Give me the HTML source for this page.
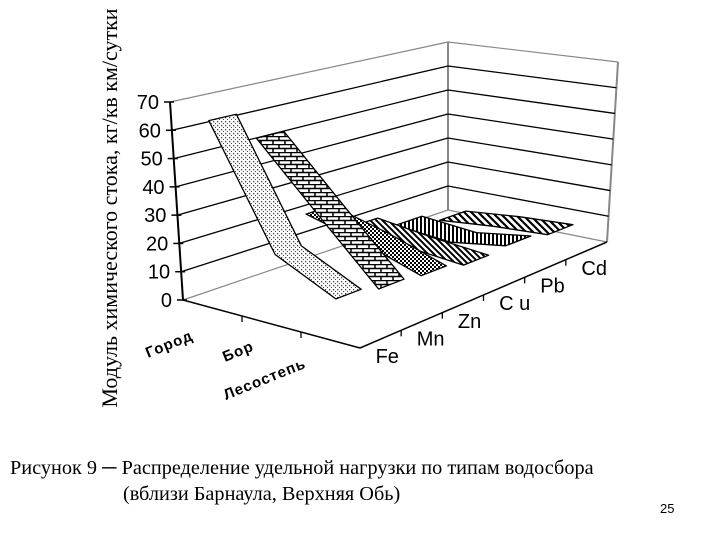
<!DOCTYPE html>
<html><head><meta charset="utf-8">
<style>
body{margin:0;background:#fff;}
#wrap{position:relative;width:720px;height:540px;overflow:hidden;background:#fff;}
.cap{position:absolute;font-family:"Liberation Serif",serif;font-size:20.3px;color:#000;white-space:nowrap;}
</style></head>
<body>
<div id="wrap">
<svg id="chart" width="720" height="540" style="position:absolute;left:0;top:0">
<defs>
<pattern id="pDots" width="4" height="4" patternUnits="userSpaceOnUse"><rect width="4" height="4" fill="#fff"/><rect x="1" y="1" width="1.3" height="1.3" fill="#444"/><rect x="3" y="3" width="1.3" height="1.3" fill="#444"/></pattern>
<pattern id="pBrick" width="12" height="8" patternUnits="userSpaceOnUse"><rect width="12" height="8" fill="#fff"/><path d="M0 0.5H12M0 4.5H12M3 0V4.5M9 4.5V8" stroke="#000" stroke-width="1.5"/></pattern>
<pattern id="pCheck" width="4" height="4" patternUnits="userSpaceOnUse"><rect width="4" height="4" fill="#fff"/><rect width="2" height="2" fill="#000"/><rect x="2" y="2" width="2" height="2" fill="#000"/></pattern>
<pattern id="pDiag" width="6" height="6" patternUnits="userSpaceOnUse"><rect width="6" height="6" fill="#fff"/><path d="M-1 -1L7 7M-1 5L1 7M5 -1L7 1" stroke="#000" stroke-width="2"/></pattern>
<pattern id="pVert" width="4" height="4" patternUnits="userSpaceOnUse"><rect width="4" height="4" fill="#fff"/><rect width="2" height="4" fill="#000"/></pattern>
<pattern id="pDiag2" width="7" height="7" patternUnits="userSpaceOnUse"><rect width="7" height="7" fill="#fff"/><path d="M-1 -1L8 8M-1 6L1 8M6 -1L8 1" stroke="#000" stroke-width="2.2"/></pattern>
</defs>
<g id="g"></g>
</svg>
<div class="cap" style="left:-110px;top:195px;width:440px;font-size:22px;transform:rotate(-90deg);text-align:center;">Модуль химического стока, кг/кв км/сутки</div>
<div class="cap" style="left:10px;top:457px;">Рисунок 9 ─ Распределение удельной нагрузки по типам водосбора</div>
<div class="cap" style="left:123px;top:483px;">(вблизи Барнаула, Верхняя Обь)</div>
<div class="cap" style="left:660px;top:501px;font-family:'Liberation Sans',sans-serif;font-size:13px;">25</div>
</div>
<script>
const zones = ["Город","Бор","Лесостепь"];
const elements = ["Fe","Mn","Zn","Cu","Pb","Cd"];
const feVals = [64,22,12];
const mnVals = [54,31,10];
const znVals = [22,16,9];
const cuVals = [12,9,7];
const pbVals = [7,5,8];
const cdVals = [3,5,6];
const yTicks = [0,10,20,30,40,50,60,70];
const seriesVals = [feVals,mnVals,znVals,cuVals,pbVals,cdVals];
const fills = ["url(#pDots)","url(#pBrick)","url(#pCheck)","url(#pDiag)","url(#pVert)","url(#pDiag2)"];
const HMAX = 70;
const F = {o:[183,300], b:[360,348], k:[448,210], r:[607,242]};
const T = {o:[170,102], b:[340,122], k:[448,42], r:[618,62]};
function bil(C,u,v){
  const x=(1-u)*(1-v)*C.o[0]+u*(1-v)*C.b[0]+(1-u)*v*C.k[0]+u*v*C.r[0];
  const y=(1-u)*(1-v)*C.o[1]+u*(1-v)*C.b[1]+(1-u)*v*C.k[1]+u*v*C.r[1];
  return [x,y];
}
function P(u,v,h){const f=bil(F,u,v),t=bil(T,u,v),s=h/HMAX;return [f[0]+(t[0]-f[0])*s,f[1]+(t[1]-f[1])*s];}
const NS="http://www.w3.org/2000/svg";
const g=document.getElementById('g');
function mk(tag,attrs){const e=document.createElementNS(NS,tag);for(const k in attrs)e.setAttribute(k,attrs[k]);g.appendChild(e);return e;}
function line(a,b,stroke,w,name){const e=mk('line',{x1:a[0],y1:a[1],x2:b[0],y2:b[1],stroke:stroke,'stroke-width':w});

return e;}
function txt(x,y,s,attrs,name){const e=mk('text',Object.assign({x:x,y:y,'font-family':'Liberation Sans, sans-serif'},attrs));e.textContent=s;

return e;}
line(P(0,0,0),P(0,1,0),'#888',1.2,'left-wall-floor-edge');
line(P(0,1,0),P(1,1,0),'#888',1.2,'right-wall-floor-edge');
line(P(0,1,0),P(0,1,HMAX),'#888',2,'back-wall-edge');
line(P(1,1,0),P(1,1,HMAX),'#888',2,'right-wall-edge');
line(P(0,0,HMAX),P(0,1,HMAX),'#888',1.2,'left-wall-top-edge');
line(P(0,1,HMAX),P(1,1,HMAX),'#888',1.2,'right-wall-top-edge');
yTicks.forEach(h=>{
  if(h>0&&h<HMAX){
    line(P(0,0,h),P(0,1,h),'#000',1.3,'gridline-left-'+h);
    line(P(0,1,h),P(1,1,h),'#000',1.3,'gridline-right-'+h);
  }
  const a=P(0,0,h);
  line([a[0]-6,a[1]],[a[0]+4,a[1]],'#000',1.5,'y-tick-'+h);
  txt(a[0]-11,a[1]+7,String(h),{'font-size':20,'text-anchor':'end'},'y-tick-label-'+h);
});
line(P(0,0,0),P(0,0,HMAX),'#000',2,'value-axis');
line(P(0,0,0),P(1,0,0),'#000',1.5,'depth-axis');
line(P(1,0,0),P(1,1,0),'#000',1.5,'element-axis');
for(let i=1;i<zones.length;i++){const a=P(i/zones.length,0,0);line(a,[a[0],a[1]+6],'#000',1.3,'depth-tick-'+i);}
for(let i=1;i<elements.length;i++){const a=P(1,i/elements.length,0);line(a,[a[0],a[1]+6],'#000',1.3,'element-tick-'+i);}
for(let s=elements.length-1;s>=0;s--){
  const vals=seriesVals[s];
  const v0=(s+0.2)/elements.length, v1=(s+0.8)/elements.length;
  const pts=[];
  vals.forEach((h,j)=>{pts.push(P((j+0.5)/zones.length,v1,h));});
  for(let j=vals.length-1;j>=0;j--){pts.push(P((j+0.5)/zones.length,v0,vals[j]));}
  const e=mk('polygon',{points:pts.map(p=>p[0].toFixed(1)+','+p[1].toFixed(1)).join(' '),fill:fills[s],stroke:'#000','stroke-width':1.3,'stroke-linejoin':'round'});
  
  
}
elements.forEach((el,i)=>{const a=P(1,(i+0.5)/elements.length,0);
  txt(a[0]-5,a[1]+24,el==='Cu'?'C u':el,{'font-size':20,'text-anchor':'start'},'element-label-'+el.toLowerCase());});
const zPos=[[148,358],[225,362],[226,400]];
zones.forEach((z,i)=>{txt(zPos[i][0],zPos[i][1],z,{'font-size':15,'font-weight':'bold','letter-spacing':'1',transform:'rotate(-22 '+zPos[i][0]+' '+zPos[i][1]+')'},'zone-label-'+i);});
</script>
</body></html>
